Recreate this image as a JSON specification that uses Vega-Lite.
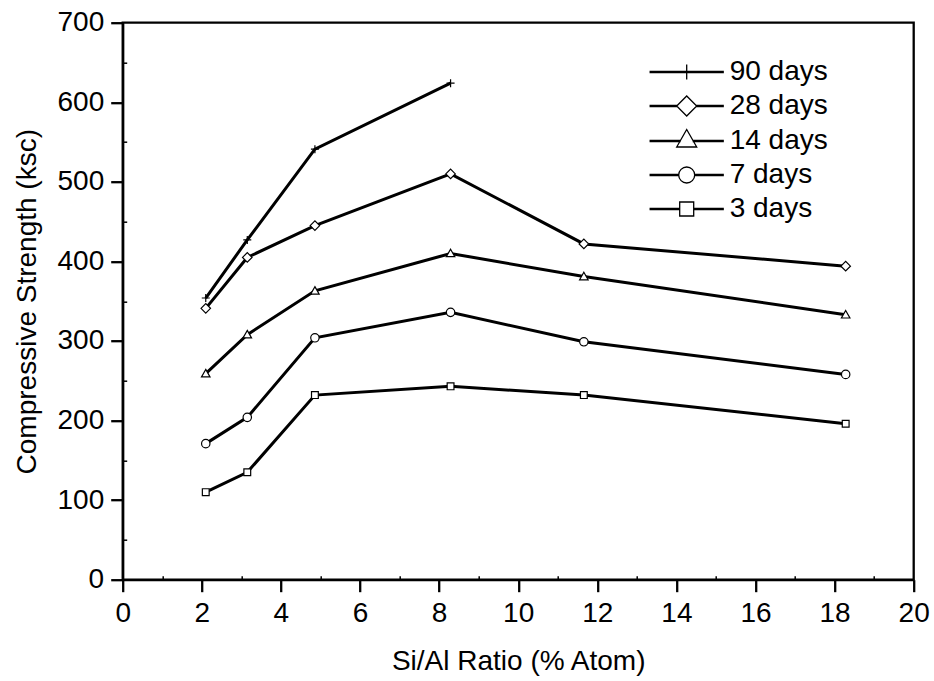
{
  "$schema": "https://vega.github.io/schema/vega-lite/v6.json",
  "width": 791,
  "height": 557,
  "autosize": "none",
  "padding": {"left": 122.7, "top": 22.7, "right": 20.3, "bottom": 101.3},
  "background": "white",
  "config": {
    "font": "Liberation Sans",
    "view": {"stroke": "black", "strokeWidth": 2.3},
    "axis": {"domainColor": "black", "domainWidth": 2.3, "tickColor": "black", "tickWidth": 2.3, "labelColor": "black", "titleColor": "black", "labelFont": "Liberation Sans", "titleFont": "Liberation Sans", "titleFontWeight": "normal", "grid": false}
  },
  "data": {
    "values": [
      {"age": "90 days", "ratio": 2.10, "strength": 354},
      {"age": "90 days", "ratio": 3.15, "strength": 427},
      {"age": "90 days", "ratio": 4.86, "strength": 541},
      {"age": "90 days", "ratio": 8.29, "strength": 624},
      {"age": "28 days", "ratio": 2.10, "strength": 341},
      {"age": "28 days", "ratio": 3.15, "strength": 405},
      {"age": "28 days", "ratio": 4.86, "strength": 445},
      {"age": "28 days", "ratio": 8.29, "strength": 510},
      {"age": "28 days", "ratio": 11.66, "strength": 422},
      {"age": "28 days", "ratio": 18.28, "strength": 394},
      {"age": "14 days", "ratio": 2.10, "strength": 259},
      {"age": "14 days", "ratio": 3.15, "strength": 308},
      {"age": "14 days", "ratio": 4.86, "strength": 363},
      {"age": "14 days", "ratio": 8.29, "strength": 410},
      {"age": "14 days", "ratio": 11.66, "strength": 381},
      {"age": "14 days", "ratio": 18.28, "strength": 333},
      {"age": "7 days", "ratio": 2.10, "strength": 171},
      {"age": "7 days", "ratio": 3.15, "strength": 204},
      {"age": "7 days", "ratio": 4.86, "strength": 304},
      {"age": "7 days", "ratio": 8.29, "strength": 336},
      {"age": "7 days", "ratio": 11.66, "strength": 299},
      {"age": "7 days", "ratio": 18.28, "strength": 258},
      {"age": "3 days", "ratio": 2.10, "strength": 110},
      {"age": "3 days", "ratio": 3.15, "strength": 135},
      {"age": "3 days", "ratio": 4.86, "strength": 232},
      {"age": "3 days", "ratio": 8.29, "strength": 243},
      {"age": "3 days", "ratio": 11.66, "strength": 232},
      {"age": "3 days", "ratio": 18.28, "strength": 196}
    ]
  },
  "layer": [
    {
      "mark": {"type": "line", "color": "black", "strokeWidth": 3},
      "encoding": {
        "x": {"field": "ratio", "type": "quantitative", "scale": {"domain": [0, 20], "nice": false, "zero": false},
          "axis": {"title": "Si/Al Ratio (% Atom)", "values": [0, 2, 4, 6, 8, 10, 12, 14, 16, 18, 20], "format": "d", "tickSize": 12, "labelPadding": 8, "labelFontSize": 28, "titleFontSize": 28, "titlePadding": 20, "labelFlush": false, "labelOverlap": false}},
        "y": {"field": "strength", "type": "quantitative", "scale": {"domain": [0, 700], "nice": false},
          "axis": {"title": "Compressive Strength (ksc)", "values": [0, 100, 200, 300, 400, 500, 600, 700], "format": "d", "tickSize": 12, "labelPadding": 7, "labelFontSize": 28, "titleFontSize": 28, "titlePadding": 15, "labelFlush": false, "labelOverlap": false}},
        "detail": {"field": "age"}
      }
    },
    {
      "mark": {"type": "point", "filled": true, "fill": "white", "stroke": "black", "strokeWidth": 1.2, "opacity": 1, "size": 100},
      "encoding": {
        "x": {"field": "ratio", "type": "quantitative",
          "axis": {"orient": "bottom", "values": [1, 3, 5, 7, 9, 11, 13, 15, 17, 19], "tickSize": -4, "tickWidth": 1.5, "labels": false, "domain": false, "title": null}},
        "y": {"field": "strength", "type": "quantitative",
          "axis": {"orient": "left", "values": [50, 150, 250, 350, 450, 550, 650], "tickSize": -4, "tickWidth": 1.5, "labels": false, "domain": false, "title": null}},
        "shape": {"field": "age", "type": "nominal",
          "scale": {"domain": ["90 days", "28 days", "14 days", "7 days", "3 days"],
            "range": ["M-0.8,0H0.8M0,-0.8V0.8", "M-0.95,0L0,-0.95L0.95,0L0,0.95Z", "M0,-0.85L0.85,0.65L-0.85,0.65Z", "M0.84,0A0.84,0.84 0 1,1 -0.84,0A0.84,0.84 0 1,1 0.84,0Z", "M-0.68,-0.68H0.68V0.68H-0.68Z"]},
          "legend": null}
      }
    },
    {
      "transform": [{"filter": "datum.ratio < 0"}],
      "mark": {"type": "point", "filled": false, "stroke": "black", "strokeWidth": 1.3, "opacity": 1, "size": 400},
      "encoding": {
        "x": {"field": "ratio", "type": "quantitative", "axis": null},
        "y": {"field": "strength", "type": "quantitative", "axis": null},
        "shape": {"field": "age", "type": "nominal",
          "scale": {"domain": ["90 days", "28 days", "14 days", "7 days", "3 days"],
            "range": [
              "M-3.65,-0.06H3.65V0.06H-3.65ZM0,-0.75V0.75",
              "M-3.65,-0.06H-1V0.06H-3.65ZM1,-0.06H3.65V0.06H1ZM-1,0L0,-1L1,0L0,1Z",
              "M-3.65,-0.06H-0.66V0.06H-3.65ZM0.66,-0.06H3.65V0.06H0.66ZM0,-1.15L1,0.6L-1,0.6Z",
              "M-3.65,-0.06H-0.8V0.06H-3.65ZM0.8,-0.06H3.65V0.06H0.8ZM0.8,0A0.8,0.8 0 1,1 -0.8,0A0.8,0.8 0 1,1 0.8,0Z",
              "M-3.65,-0.06H-0.7V0.06H-3.65ZM0.7,-0.06H3.65V0.06H0.7ZM-0.7,-0.7H0.7V0.7H-0.7Z"
            ]},
          "legend": {
            "title": null, "orient": "none", "legendX": 550, "legendY": 35.3, "padding": 0,
            "symbolSize": 400, "labelFontSize": 28, "labelFont": "Liberation Sans", "labelColor": "black", "labelOffset": 29, "rowPadding": 6,
            "symbolStrokeColor": "black", "symbolStrokeWidth": 1.3, "symbolOpacity": 1
          }}
      }
    }
  ],
  "resolve": {"axis": {"x": "independent", "y": "independent"}, "scale": {"shape": "independent"}, "legend": {"shape": "independent"}}
}
